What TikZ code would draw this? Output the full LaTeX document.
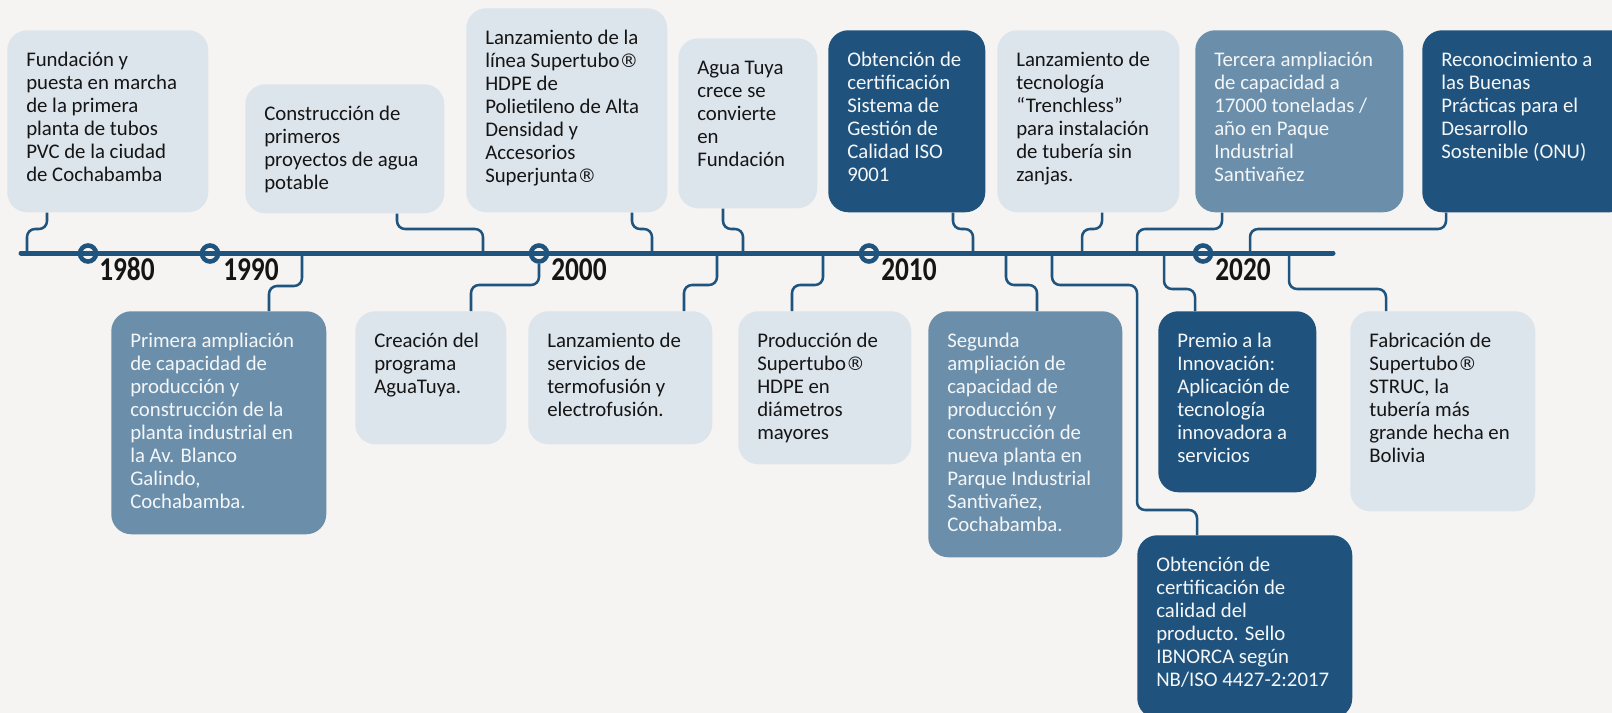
\documentclass[tikz,border=0pt]{standalone}
\usepackage{fontspec}
\setmainfont{Carlito}
\newfontfamily\yearfont[FakeStretch=0.82]{Carlito}
\newfontfamily\regfont{DejaVu Sans}
\newcommand\regmark{{\regfont\fontsize{14pt}{17.25pt}\selectfont ®}}
\usetikzlibrary{calc}
\definecolor{bgc}{HTML}{F5F4F2}
\definecolor{lightc}{HTML}{DCE4EC}
\definecolor{midc}{HTML}{6B8FAB}
\definecolor{darkc}{HTML}{1F537E}
\definecolor{linec}{HTML}{1F547F}
\definecolor{inkc}{HTML}{151515}
\definecolor{paperc}{HTML}{F4F6F8}
\newcommand\fstrut{\rule{0pt}{14pt}}
\tikzset{
  card/.style={rounded corners=15pt, inner sep=0pt, anchor=north west, draw=none},
  lightcard/.style={card, fill=lightc},
  midcard/.style={card, fill=midc},
  darkcard/.style={card, fill=darkc},
  cardtext/.style={inner sep=0pt, anchor=north west, align=left, font=\fontsize{15.6pt}{17.25pt}\selectfont},
  darktext/.style={cardtext, text=inkc},
  whitetext/.style={cardtext, text=paperc},
  conn/.style={draw=linec, line width=1.9pt, rounded corners=6pt},
  timeline/.style={draw=linec, line width=3.75pt, line cap=round},
  yeardot/.style={draw=linec, line width=3.4pt, circle, minimum size=12pt, inner sep=0pt},
  yearlabel/.style={anchor=base west, inner sep=0pt, text=inkc, font=\yearfont\bfseries\fontsize{25pt}{25pt}\selectfont},
}
% name, card style, text style, x, y, w, h, text
\newcommand\card[8]{%
  \node[#2, minimum width=#6*0.75pt, minimum height=#7*0.75pt] (#1) at (#4,#5) {};
  \node[#3] (#1t) at ($(#1.north west)+(19,18)$) {\fstrut #8};
}
\begin{document}
\begin{tikzpicture}[x=0.75pt,y=-0.75pt]
\useasboundingbox (0,0) rectangle (1612,713);
\fill[bgc] (0,0) rectangle (1612,713);

% top cards
\card{b1}{lightcard}{darktext}{7}{30}{201}{182}{Fundación y\\puesta en marcha\\de la primera\\planta de tubos\\PVC de la ciudad\\de Cochabamba}
\card{b2}{lightcard}{darktext}{245}{84}{199}{129}{Construcción de\\primeros\\proyectos de agua\\potable}
\card{b3}{lightcard}{darktext}{466}{8}{201}{204}{Lanzamiento de la\\línea Supertubo\regmark\\HDPE de\\Polietileno de Alta\\Densidad y\\Accesorios\\Superjunta\regmark}
\card{b4}{lightcard}{darktext}{678}{38}{139}{170}{Agua Tuya\\crece se\\convierte\\en\\Fundación}
\card{b5}{darkcard}{whitetext}{828}{30}{157}{182}{Obtención de\\certificación\\Sistema de\\Gestión de\\Calidad ISO\\9001}
\card{b6}{lightcard}{darktext}{997}{30}{182}{182}{Lanzamiento de\\tecnología\\“Trenchless”\\para instalación\\de tubería sin\\zanjas.}
\card{b7}{midcard}{whitetext}{1195}{30}{208}{182}{Tercera ampliación\\de capacidad a\\17000 toneladas /\\año en Paque\\Industrial\\Santivañez}
\card{b8}{darkcard}{whitetext}{1422}{30}{208}{182}{Reconocimiento a\\las Buenas\\Prácticas para el\\Desarrollo\\Sostenible (ONU)}

% bottom cards
\card{b9}{midcard}{whitetext}{111}{311}{215}{223}{Primera ampliación\\de capacidad de\\producción y\\construcción de la\\planta industrial en\\la Av. Blanco\\Galindo,\\Cochabamba.}
\card{b10}{lightcard}{darktext}{355}{311}{151}{133}{Creación del\\programa\\AguaTuya.}
\card{b11}{lightcard}{darktext}{528}{311}{184}{133}{Lanzamiento de\\servicios de\\termofusión y\\electrofusión.}
\card{b12}{lightcard}{darktext}{738}{311}{173}{153}{Producción de\\Supertubo\regmark\\HDPE en\\diámetros\\mayores}
\card{b13}{midcard}{whitetext}{928}{311}{194}{246}{Segunda\\ampliación de\\capacidad de\\producción y\\construcción de\\nueva planta en\\Parque Industrial\\Santivañez,\\Cochabamba.}
\card{b14}{darkcard}{whitetext}{1158}{311}{158}{181}{Premio a la\\Innovación:\\Aplicación de\\tecnología\\innovadora a\\servicios}
\card{b15}{lightcard}{darktext}{1350}{311}{185}{200}{Fabricación de\\Supertubo\regmark\\STRUC, la\\tubería más\\grande hecha en\\Bolivia}
\card{b16}{darkcard}{whitetext}{1137}{535}{215}{183}{Obtención de\\certificación de\\calidad del\\producto. Sello\\IBNORCA según\\NB/ISO 4427-2:2017}

% timeline
\coordinate (tlA) at (21,253);
\coordinate (tlB) at (1333,253);
\draw[timeline] (tlA) -- (tlB);

% connectors from top cards
\draw[conn] (47,0 |- b1.south) -- (47,229) -- (27,229) -- (27,0 |- tlA);
\draw[conn] (397,0 |- b2.south) -- (397,229) -- (483,229) -- (483,0 |- tlA);
\draw[conn] (632,0 |- b3.south) -- (632,229) -- (652,229) -- (652,0 |- tlA);
\draw[conn] (723,0 |- b4.south) -- (723,229) -- (743,229) -- (743,0 |- tlA);
\draw[conn] (953,0 |- b5.south) -- (953,229) -- (973,229) -- (973,0 |- tlA);
\draw[conn] (1102,0 |- b6.south) -- (1102,229) -- (1082,229) -- (1082,0 |- tlA);
\draw[conn] (1222,0 |- b7.south) -- (1222,229) -- (1137,229) -- (1137,0 |- tlA);
\draw[conn] (1446,0 |- b8.south) -- (1446,229) -- (1250,229) -- (1250,0 |- tlA);

% year markers
\node[yeardot] (d1980) at (88,253.5) {};
\node[yeardot] (d1990) at (210,253.5) {};
\node[yeardot] (d2000) at (539,253.5) {};
\node[yeardot] (d2010) at (869,253.5) {};
\node[yeardot] (d2020) at (1203,253.5) {};
\node[yearlabel] (l1980) at (99,280.5) {1980};
\node[yearlabel] (l1990) at (223,280.5) {1990};
\node[yearlabel] (l2000) at (551,280) {2000};
\node[yearlabel] (l2010) at (881,280) {2010};
\node[yearlabel] (l2020) at (1215,280) {2020};

% connectors to bottom cards
\draw[conn] (302,0 |- tlA) -- (302,286) -- (269,286) -- (269,0 |- b9.north);
\draw[conn] (d2000.south) -- (539,285) -- (471,285) -- (471,0 |- b10.north);
\draw[conn] (717,0 |- tlA) -- (717,285) -- (684,285) -- (684,0 |- b11.north);
\draw[conn] (823,0 |- tlA) -- (823,285) -- (792,285) -- (792,0 |- b12.north);
\draw[conn] (1006,0 |- tlA) -- (1006,285) -- (1037,285) -- (1037,0 |- b13.north);
\draw[conn] (1052,0 |- tlA) -- (1052,285) -- (1137,285) -- (1137,510) -- (1197,510) -- (1197,0 |- b16.north);
\draw[conn] (1164,0 |- tlA) -- (1164,289) -- (1195,289) -- (1195,0 |- b14.north);
\draw[conn] (1289,0 |- tlA) -- (1289,289) -- (1386,289) -- (1386,0 |- b15.north);
\end{tikzpicture}
\end{document}
